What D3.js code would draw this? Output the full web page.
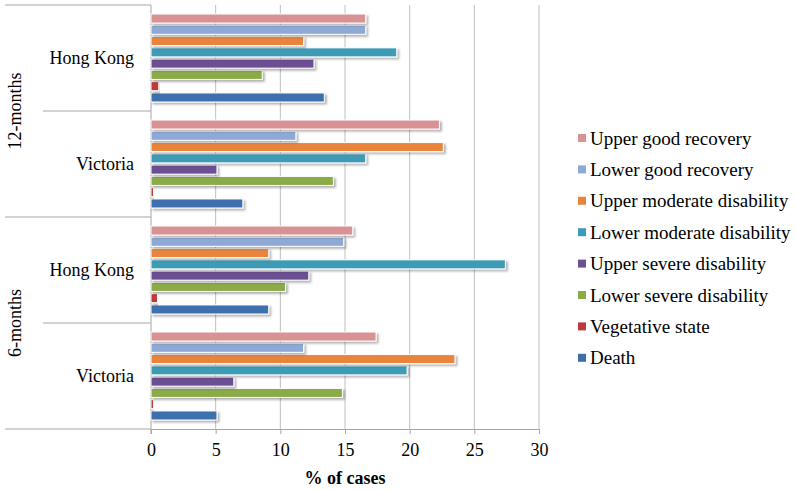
<!DOCTYPE html>
<html>
<head>
<meta charset="utf-8">
<script src="https://cdn.jsdelivr.net/npm/d3@7"></script>
<style>
  body { margin: 0; background: #fff; }
  svg { font-family: "Liberation Serif", "Times New Roman", serif; }
</style>
</head>
<body>
<svg width="796" height="490"></svg>
<script>
// outcome categories, bottom to top inside each group
var outcomes = [
  "Death",
  "Vegetative state",
  "Lower severe disability",
  "Upper severe disability",
  "Lower moderate disability",
  "Upper moderate disability",
  "Lower good recovery",
  "Upper good recovery"
];
var colors = ["#3d6fad", "#bd3a3a", "#8aab47", "#6c5093", "#3c9bb5", "#e8843a", "#8fa9d7", "#d89294"];

// groups, bottom to top
var periods = ["6-months", "6-months", "12-months", "12-months"];
var sites = ["Victoria", "Hong Kong", "Victoria", "Hong Kong"];

// % of cases, same order as outcomes
var vic6 = [5.1, 0.2, 14.8, 6.4, 19.8, 23.5, 11.8, 17.4];
var hk6 = [9.1, 0.5, 10.4, 12.2, 27.4, 9.1, 14.9, 15.6];
var vic12 = [7.1, 0.2, 14.1, 5.1, 16.6, 22.6, 11.2, 22.3];
var hk12 = [13.4, 0.6, 8.6, 12.6, 19.0, 11.8, 16.6, 16.6];
var seriesByGroup = [vic6, hk6, vic12, hk12];

var xTicks = [0, 5, 10, 15, 20, 25, 30];

var svg = d3.select("svg");
var plotLeft = 151, plotRight = 539, plotTop = 5, plotBottom = 429;

var x = d3.scaleLinear().domain([0, 30]).range([plotLeft, plotRight]);

var groupIds = d3.range(periods.length);
// group 0 at the bottom
var y0 = d3.scaleBand().domain(groupIds).range([plotBottom, plotTop]).padding(0);
var y1 = d3.scaleBand().domain(d3.range(outcomes.length))
  .range([y0.bandwidth(), 0]).paddingInner(0.2).paddingOuter(0.8);

var defs = svg.append("defs");
var f = defs.append("filter").attr("id", "shadow")
  .attr("x", "-5%").attr("y", "-50%").attr("width", "110%").attr("height", "200%");
f.append("feDropShadow").attr("dx", 2).attr("dy", 2).attr("stdDeviation", 1)
  .attr("flood-color", "#000").attr("flood-opacity", 0.3);

// vertical gridlines
svg.append("g").selectAll("line")
  .data(xTicks.slice(1))
  .enter().append("line")
  .attr("x1", d => x(d)).attr("x2", d => x(d))
  .attr("y1", plotTop).attr("y2", plotBottom)
  .attr("stroke", "#bfbfbf").attr("stroke-width", 1);

// x axis
var xAxis = svg.append("g")
  .attr("transform", "translate(0," + plotBottom + ")")
  .call(d3.axisBottom(x).tickValues(xTicks).tickSize(5).tickPadding(9).tickSizeOuter(0));
xAxis.select(".domain").attr("stroke", "#a6a6a6");
xAxis.selectAll(".tick line").attr("stroke", "#a6a6a6");
xAxis.selectAll("text").attr("fill", "#000").style("font-size", "18px")
  .style("font-family", "Liberation Serif");

svg.append("text")
  .attr("x", x(15)).attr("y", 484)
  .attr("text-anchor", "middle")
  .style("font-size", "18px").style("font-weight", "bold")
  .text("% of cases");

// category axis line and separators
svg.append("line")
  .attr("x1", plotLeft).attr("x2", plotLeft).attr("y1", plotTop).attr("y2", plotBottom + 5)
  .attr("stroke", "#a6a6a6");

var seps = [0, 1, 2, 3, 4];
svg.append("g").selectAll("line")
  .data(seps)
  .enter().append("line")
  .attr("x1", d => (d % 2 === 0 ? 5 : 43)).attr("x2", plotLeft)
  .attr("y1", d => plotBottom - d * y0.bandwidth()).attr("y2", d => plotBottom - d * y0.bandwidth())
  .attr("stroke", "#a6a6a6");

// site labels
svg.append("g").selectAll("text")
  .data(groupIds)
  .enter().append("text")
  .attr("x", 134)
  .attr("y", d => y0(d) + y0.bandwidth() / 2)
  .attr("dy", "0.35em")
  .attr("text-anchor", "end")
  .style("font-size", "18px")
  .text(d => sites[d]);

// period labels
var periodNames = Array.from(new Set(periods));
svg.append("g").selectAll("text")
  .data(periodNames)
  .enter().append("text")
  .attr("transform", function (p) {
    var ids = groupIds.filter(i => periods[i] === p);
    var cy = d3.mean(ids, i => y0(i) + y0.bandwidth() / 2);
    return "translate(15," + cy + ") rotate(-90)";
  })
  .attr("dy", "0.35em")
  .attr("text-anchor", "middle")
  .style("font-size", "18px")
  .text(d => d);

// bars
var groups = svg.append("g").selectAll("g")
  .data(groupIds)
  .enter().append("g")
  .attr("transform", d => "translate(0," + y0(d) + ")");

groups.selectAll("rect")
  .data(d => seriesByGroup[d].map((v, i) => ({ v: v, i: i })))
  .enter().append("rect")
  .attr("x", x(0))
  .attr("y", d => y1(d.i))
  .attr("width", d => x(d.v) - x(0))
  .attr("height", y1.bandwidth())
  .attr("fill", d => colors[d.i])
  .attr("stroke", "#fff")
  .attr("stroke-width", 1)
  .attr("filter", "url(#shadow)");

// legend, top entry first
var legendItems = outcomes.slice().reverse();
var legend = svg.append("g").selectAll("g")
  .data(legendItems)
  .enter().append("g")
  .attr("transform", (d, i) => "translate(578," + (138 + i * 31.4) + ")");

legend.append("rect")
  .attr("x", 0).attr("y", -4).attr("width", 8).attr("height", 8)
  .attr("fill", d => colors[outcomes.indexOf(d)]);

legend.append("text")
  .attr("x", 12).attr("dy", "0.35em")
  .style("font-size", "19px")
  .text(d => d);
</script>
</body>
</html>
